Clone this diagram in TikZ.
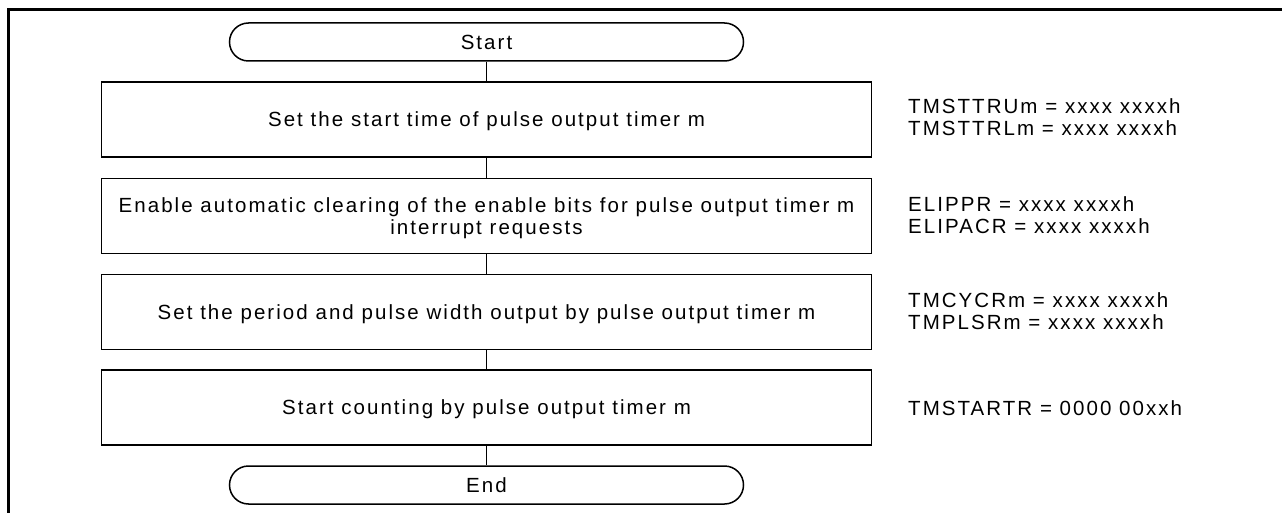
\documentclass[tikz,border=0pt]{standalone}
\usepackage{fontspec}
\setmainfont{Liberation Sans}[LetterSpace=10]
\begin{document}
\begin{tikzpicture}[x=1pt,y=-1pt,
  term/.style={draw, line width=1.5pt, rounded corners=19pt, minimum width=514pt, minimum height=38pt, inner sep=0pt},
  stepbox/.style={draw, line width=1.4pt, minimum width=770pt, minimum height=75pt, align=center, inner sep=0pt, text depth=0pt},
  reg/.style={anchor=west, align=left, inner sep=0pt},
  every node/.style={font=\fontsize{20.5}{22}\selectfont},
  conn/.style={line width=1.4pt}]
\useasboundingbox (0,0) rectangle (1282,513);
\draw[line width=3pt] (8,513) -- (8,10) -- (1282,10);
\node[term] (start) at (486.5,42) {Start};
\node[stepbox] (b1) at (486.5,119.5) {Set the start time of pulse output timer m};
\node[stepbox] (b2) at (486.5,216) {Enable automatic clearing of the enable bits for pulse output timer m\\interrupt requests};
\node[stepbox] (b3) at (486.5,312) {Set the period and pulse width output by pulse output timer m};
\node[stepbox] (b4) at (486.5,407.5) {Start counting by pulse output timer m};
\node[term] (end) at (486.5,485) {End};
\node[reg] (r1) at (908,117.5) {TMSTTRUm = xxxx xxxxh\\TMSTTRLm = xxxx xxxxh};
\node[reg] (r2) at (908,215) {ELIPPR = xxxx xxxxh\\ELIPACR = xxxx xxxxh};
\node[reg] (r3) at (908,311) {TMCYCRm = xxxx xxxxh\\TMPLSRm = xxxx xxxxh};
\node[reg] (r4) at (908,408.5) {TMSTARTR = 0000 00xxh};
\draw[conn] (start) -- (b1);
\draw[conn] (b1) -- (b2);
\draw[conn] (b2) -- (b3);
\draw[conn] (b3) -- (b4);
\draw[conn] (b4) -- (end);
\end{tikzpicture}
\end{document}
